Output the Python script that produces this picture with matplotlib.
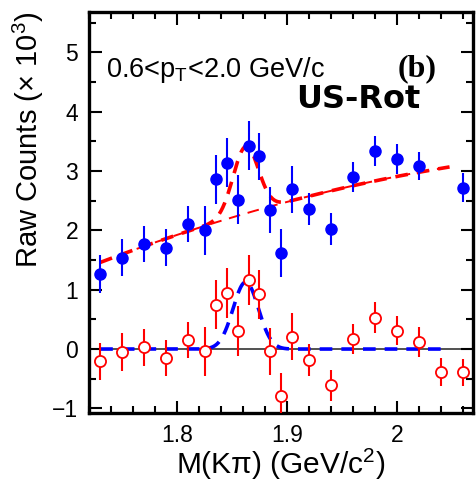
import numpy as np
import matplotlib
matplotlib.use("Agg")
import matplotlib.pyplot as plt
from matplotlib.ticker import MultipleLocator, FixedLocator, FixedFormatter

plt.rcParams['font.family'] = ['Liberation Sans', 'DejaVu Sans']
plt.rcParams['mathtext.fontset'] = 'custom'
plt.rcParams['mathtext.rm'] = 'Liberation Sans'
plt.rcParams['mathtext.it'] = 'Liberation Sans:italic'

# mass bins (GeV/c^2)
mass = [1.73, 1.75, 1.77, 1.79, 1.81, 1.825, 1.835, 1.845, 1.855, 1.865, 1.875,
        1.885, 1.895, 1.905, 1.92, 1.94, 1.96, 1.98, 2.00, 2.02, 2.06]
# US - rotated background, raw counts (x 10^3)
us_rot = [1.26, 1.54, 1.77, 1.71, 2.11, 2.00, 2.86, 3.14, 2.52, 3.43, 3.25,
          2.34, 1.62, 2.69, 2.36, 2.03, 2.90, 3.34, 3.20, 3.09, 2.72]
us_rot_err = [0.32, 0.31, 0.31, 0.31, 0.30, 0.42, 0.41, 0.41, 0.41, 0.41, 0.40,
              0.39, 0.40, 0.39, 0.27, 0.27, 0.26, 0.25, 0.25, 0.24, 0.24]

# residual after background subtraction
mass_res = [1.73, 1.75, 1.77, 1.79, 1.81, 1.825, 1.835, 1.845, 1.855, 1.865, 1.875,
            1.885, 1.895, 1.905, 1.92, 1.94, 1.96, 1.98, 2.00, 2.02, 2.04, 2.06]
resid = [-0.21, -0.05, 0.03, -0.15, 0.15, -0.04, 0.75, 0.95, 0.30, 1.16, 0.92,
         -0.04, -0.80, 0.21, -0.19, -0.61, 0.17, 0.53, 0.31, 0.12, -0.39, -0.39]
resid_err = [0.32, 0.32, 0.31, 0.31, 0.30, 0.42, 0.42, 0.42, 0.42, 0.42, 0.41,
             0.40, 0.40, 0.39, 0.27, 0.26, 0.26, 0.26, 0.25, 0.25, 0.24, 0.23]

# fit: quadratic background + gaussian peak
fit_range = (1.73, 2.048)
bkg_pars = [1.46, 7.08, -6.34]   # a + b*(m-1.73) + c*(m-1.73)^2
peak_amp = 1.13
peak_mean = 1.8625
peak_sigma = 0.0115


def bkg(m):
    u = m - 1.73
    return bkg_pars[0] + bkg_pars[1] * u + bkg_pars[2] * u ** 2


def peak(m):
    return peak_amp * np.exp(-0.5 * ((m - peak_mean) / peak_sigma) ** 2)


fig = plt.figure(figsize=(4.77, 4.86), dpi=100)
ax = fig.add_axes([0.187, 0.150, 0.805, 0.825])

m = np.linspace(fit_range[0], fit_range[1], 400)
ax.axhline(0, color='#333333', lw=1.2, zorder=1)
ax.plot(m, bkg(m), color='red', lw=1.4, dashes=(6, 4), zorder=2)
ax.plot(m, bkg(m) + peak(m), color='red', lw=2.6, dashes=(3.5, 2.5), zorder=3)
ax.plot(m, peak(m), color='blue', lw=2.6, dashes=(3.5, 2.5), zorder=3)

ax.errorbar(mass, us_rot, yerr=us_rot_err, fmt='o', color='blue', ms=8,
            elinewidth=1.5, capsize=0, zorder=4)
ax.errorbar(mass_res, resid, yerr=resid_err, fmt='o', color='red', mfc='white',
            mec='red', mew=1.3, ms=8, elinewidth=1.5, capsize=0, zorder=4)

ax.set_xlim(1.72, 2.0695)
ax.set_ylim(-1.08, 5.68)

ax.xaxis.set_major_locator(FixedLocator([1.8, 1.9, 2.0]))
ax.xaxis.set_major_formatter(FixedFormatter(['1.8', '1.9', '2']))
ax.xaxis.set_minor_locator(MultipleLocator(0.02))
ax.yaxis.set_major_locator(MultipleLocator(1))
ax.yaxis.set_minor_locator(MultipleLocator(0.5))
ax.tick_params(which='both', direction='in', top=True, right=True, width=1.5,
               labelsize=16.5)
ax.tick_params(which='major', length=9, pad=8)
ax.tick_params(which='minor', length=5)
for s in ax.spines.values():
    s.set_linewidth(2.4)

ax.set_xlabel('M(Kπ) (GeV/c$^{2}$)', fontsize=21.5, labelpad=0)
ax.set_ylabel('Raw Counts (× 10$^{3}$)', fontsize=21, labelpad=4, loc='top')

ax.text(0.045, 0.855, r'0.6<p$_{\rm T}$<2.0 GeV/c', transform=ax.transAxes,
        fontsize=19.5, va='center', ha='left')
ax.text(0.905, 0.86, '(b)', transform=ax.transAxes, fontsize=23,
        fontweight='bold', family='Liberation Serif', va='center', ha='right')
ax.text(0.862, 0.782, 'US-Rot', transform=ax.transAxes, fontsize=23,
        fontweight='bold', family='DejaVu Sans', va='center', ha='right')

fig.savefig('out.png', dpi=100)
